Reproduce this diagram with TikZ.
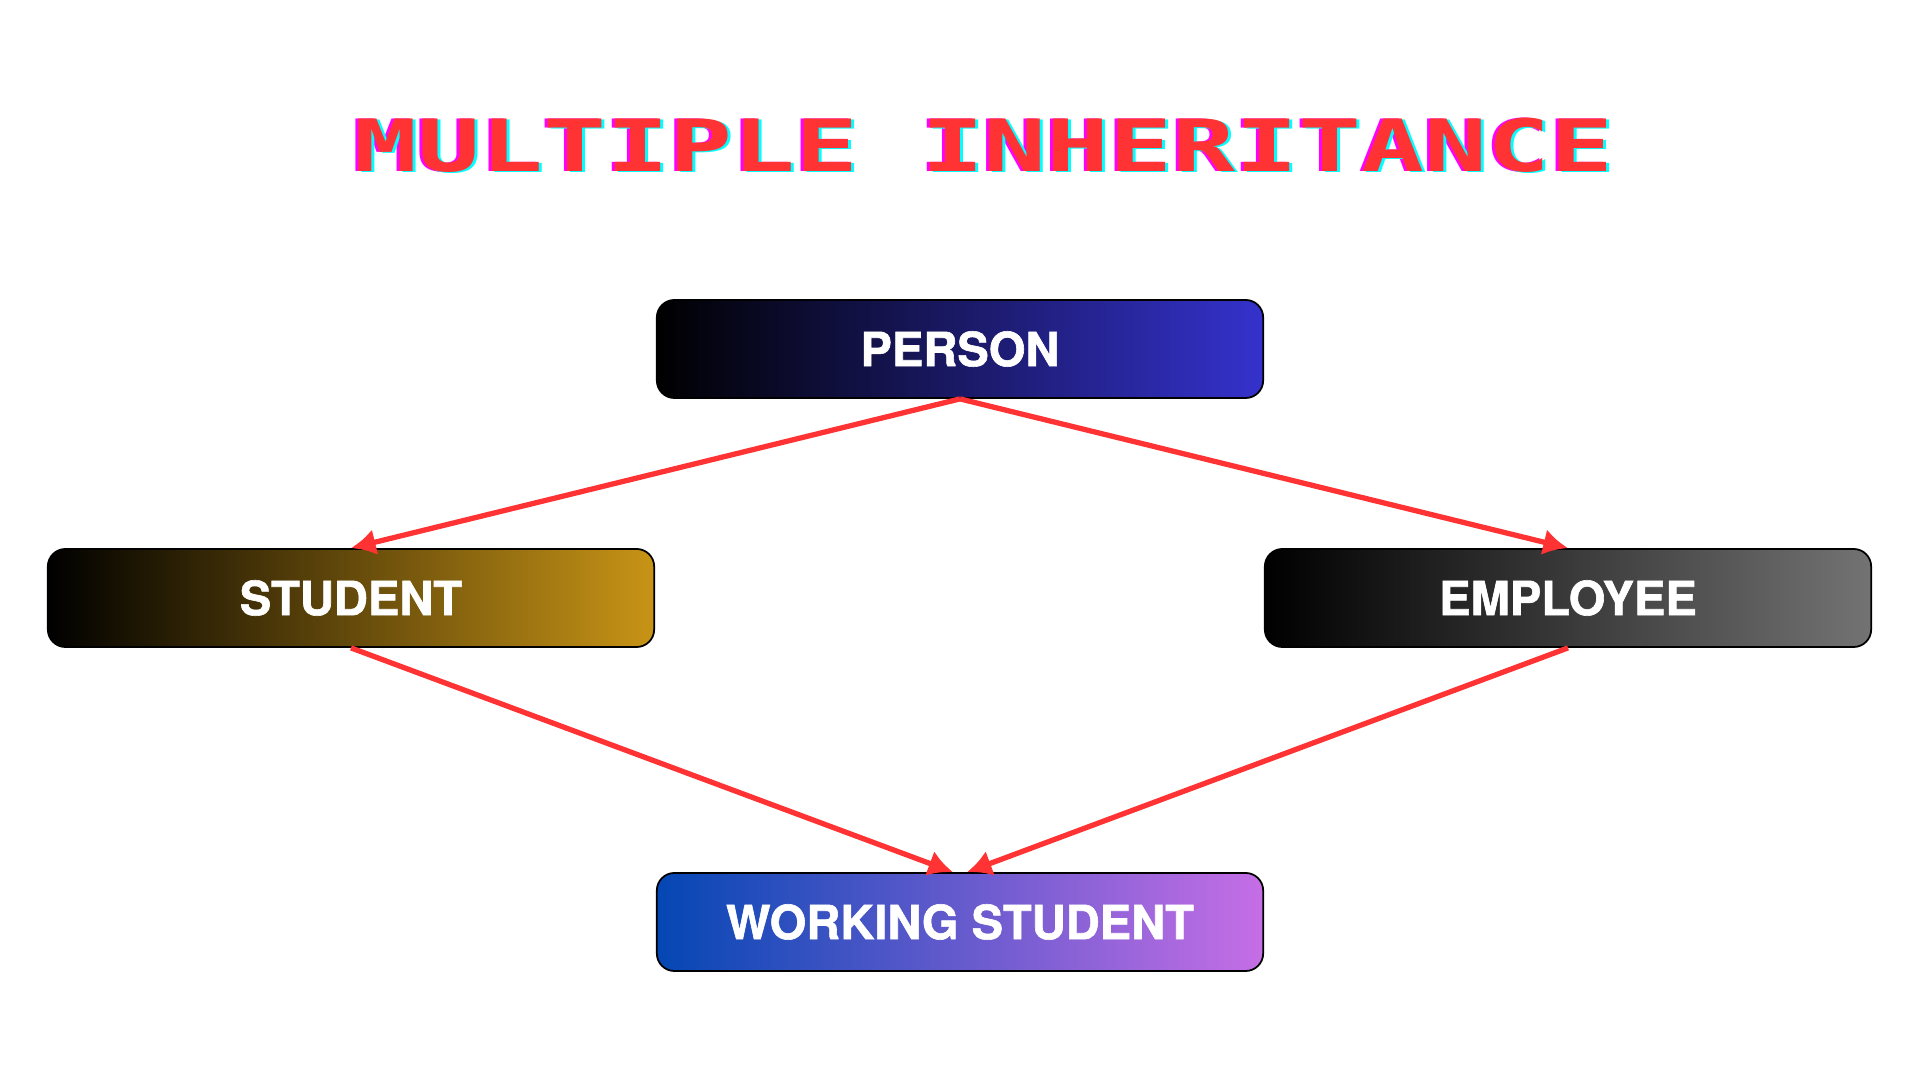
\documentclass[tikz,border=0pt]{standalone}
\usepackage{fontspec}
\usetikzlibrary{arrows.meta,shadings}
\newfontfamily\boxfont{texgyreheros-bold.otf}[FakeBold=1.3]
\newfontfamily\titlefont{DejaVu Sans Mono}
\definecolor{arrowred}{HTML}{FF3333}
\definecolor{titlemag}{HTML}{FF00FF}
\definecolor{titlecyan}{HTML}{00FFFF}

\begin{document}
\begin{tikzpicture}[x=0.01cm,y=-0.01cm,
  box/.style={draw=black,line width=0.5pt,rounded corners=5pt,minimum width=6.06cm,minimum height=0.98cm,
    inner sep=0pt,text=white,font=\boxfont\fontsize{13.4}{16}\selectfont},
  title/.style={font=\titlefont\bfseries\fontsize{20.5}{24}\selectfont,inner sep=0pt},
  link/.style={draw=arrowred,line width=1.5pt,-{Latex[length=7pt,width=7.5pt]}}]
%================================================================
%	Frame
\useasboundingbox[fill=white] (0,0) rectangle (1920,1080);
%================================================================
%	Title
\node[title,text=titlemag] (t1) at (981,145) {\scalebox{1.45}[1]{MULTIPLE INHERITANCE}};
\node[title,text=titlecyan] (t2) at (987,146) {\scalebox{1.45}[1]{MULTIPLE INHERITANCE}};
\node[title,text=arrowred] (t3) at (984,145) {\scalebox{1.45}[1]{MULTIPLE INHERITANCE}};
%================================================================
%	Nodes
\node[box,left color=black,right color={rgb,255:red,52;green,50;blue,204}] (person) at (960,349) {PERSON};
%----------------------------------------------------------------
\node[box,left color=black,right color={rgb,255:red,200;green,148;blue,22}] (student) at (351,598) {STUDENT};
\node[box,left color=black,right color={rgb,255:red,115;green,115;blue,115}] (employee) at (1568,598) {EMPLOYEE};
%----------------------------------------------------------------
\node[box,left color={rgb,255:red,4;green,71;blue,180},right color={rgb,255:red,198;green,110;blue,230}] (working) at (960,922) {WORKING STUDENT};
%================================================================
%	Lines
\draw[link] (person.south) -- (student.north);
\draw[link] (person.south) -- (employee.north);
%----------------------------------------------------------------
\draw[link] (student.south) -- ([xshift=-2pt]working.north);
\draw[link] (employee.south) -- ([xshift=2pt]working.north);
%================================================================
\end{tikzpicture}
\end{document}
